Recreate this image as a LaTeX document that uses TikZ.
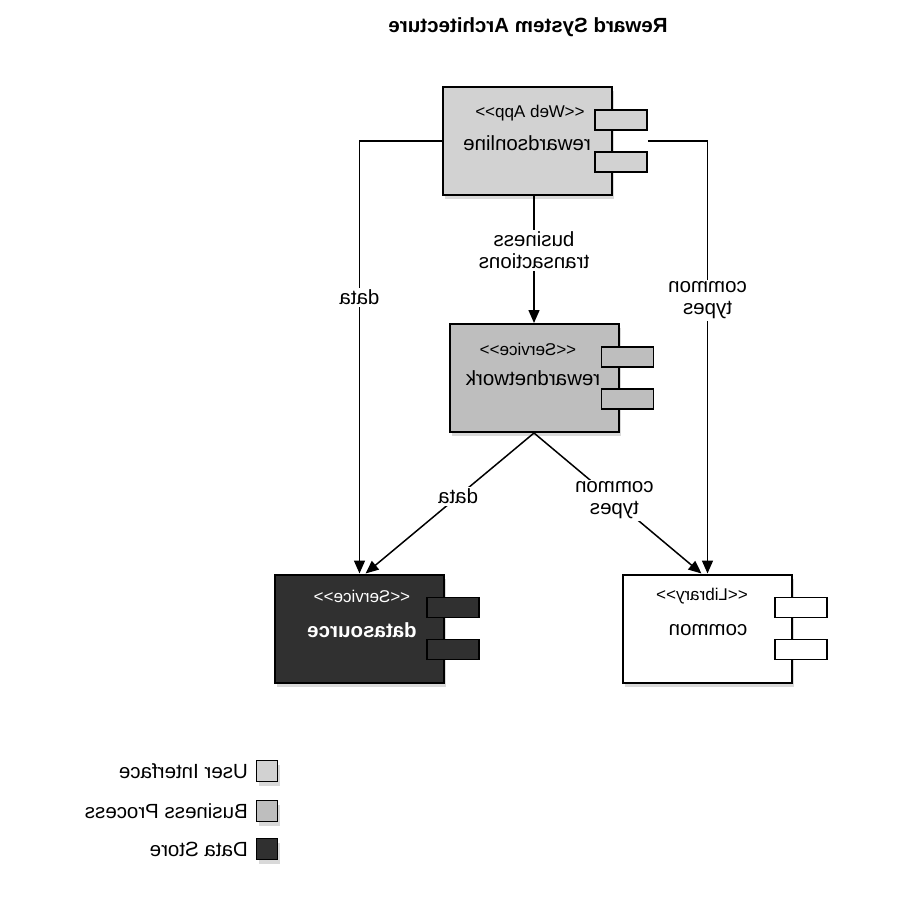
\documentclass[tikz,border=0pt]{standalone}
\usepackage{fontspec}
\setmainfont{Liberation Sans}
\usetikzlibrary{arrows.meta,shadows}
\definecolor{uicol}{HTML}{D2D2D2}
\definecolor{bpcol}{HTML}{BEBEBE}
\definecolor{dscol}{HTML}{303030}
\begin{document}
\begin{tikzpicture}[x=1pt,y=-1pt,
  shad/.style={drop shadow={shadow xshift=2pt,shadow yshift=-4pt,opacity=0.3}},
  comp/.style={draw=black,line width=2pt,minimum width=169pt,minimum height=108pt,inner sep=0pt,shad},
  port/.style={draw=black,line width=1.6pt,minimum width=52pt,minimum height=20pt,inner sep=0pt},
  mir/.style={xscale=-1,inner sep=1pt},
  stereo/.style={mir,font=\fontsize{17}{19}\selectfont},
  cname/.style={mir,font=\fontsize{20.5}{22}\selectfont},
  lbl/.style={mir,font=\fontsize{20.5}{22}\selectfont,fill=white,align=center,inner sep=2pt},
  conn/.style={line width=1.5pt,-{Triangle[length=13pt,width=11pt]}},
  legsq/.style={draw=black,line width=1.6pt,minimum size=21pt,inner sep=0pt,shad},
  legtxt/.style={mir,anchor=west,font=\fontsize{20.5}{22}\selectfont},
]
\useasboundingbox (0,0) rectangle (900,900);

% title
\node[mir,font=\bfseries\fontsize{20.5}{22}\selectfont] (title) at (528,27) {Reward System Architecture};

% components
\node[comp,fill=uicol] (ro) at (527.5,141) {};
\node[port,fill=uicol] (rop1) at ([xshift=8pt,yshift=21pt]ro.east) {};
\node[port,fill=uicol] (rop2) at ([xshift=8pt,yshift=-21pt]ro.east) {};
\node[stereo] (rost) at (530,113) {<{}<Web App>{}>};
\node[cname] (ronm) at (527,143) {rewardsonline};

\node[comp,fill=bpcol] (rn) at (534,378) {};
\node[port,fill=bpcol] (rnp1) at ([xshift=8pt,yshift=21pt]rn.east) {};
\node[port,fill=bpcol] (rnp2) at ([xshift=8pt,yshift=-21pt]rn.east) {};
\node[stereo] (rnst) at (528,349) {<{}<Service>{}>};
\node[cname] (rnnm) at (533,378) {rewardnetwork};

\node[comp,fill=dscol] (ds) at (359.5,628.5) {};
\node[port,fill=dscol] (dsp1) at ([xshift=8pt,yshift=21pt]ds.east) {};
\node[port,fill=dscol] (dsp2) at ([xshift=8pt,yshift=-21pt]ds.east) {};
\node[stereo,text=white] (dsst) at (362,596) {<{}<Service>{}>};
\node[cname,text=white,font=\bfseries\fontsize{20.5}{22}\selectfont] (dsnm) at (362,630) {datasource};

\node[comp,fill=white] (cm) at (707.5,628.5) {};
\node[port,fill=white] (cmp1) at ([xshift=8pt,yshift=21pt]cm.east) {};
\node[port,fill=white] (cmp2) at ([xshift=8pt,yshift=-21pt]cm.east) {};
\node[stereo] (cmst) at (702,596) {<{}<Library>{}>};
\node[cname] (cmnm) at (708,630) {common};

% connectors
\draw[conn] (ro.west) -| node[lbl,pos=0.681] (l1) {data} (ds.north);
\draw[conn] (rop1.east |- ro.east) -| node[lbl,pos=0.684] (l2) {common\\types} (cm.north);
\draw[conn] (ro.south -| rn.north) -- node[lbl,pos=0.43] (l3) {business\\transactions} (rn.north);
\draw[conn] (rn.south) -- node[lbl,pos=0.45] (l4) {data} ([xshift=6pt]ds.north);
\draw[conn] (rn.south) -- node[lbl,pos=0.48] (l5) {common\\types} ([xshift=-6pt]cm.north);

% legend
\node[legsq,fill=uicol] (lg1) at (267,771) {};
\node[legsq,fill=bpcol] (lg2) at (267,811) {};
\node[legsq,fill=dscol] (lg3) at (267,849) {};
\node[legtxt] (lt1) at (249,771) {User Interface};
\node[legtxt] (lt2) at (249,811) {Business Process};
\node[legtxt] (lt3) at (249,849) {Data Store};
\end{tikzpicture}
\end{document}
